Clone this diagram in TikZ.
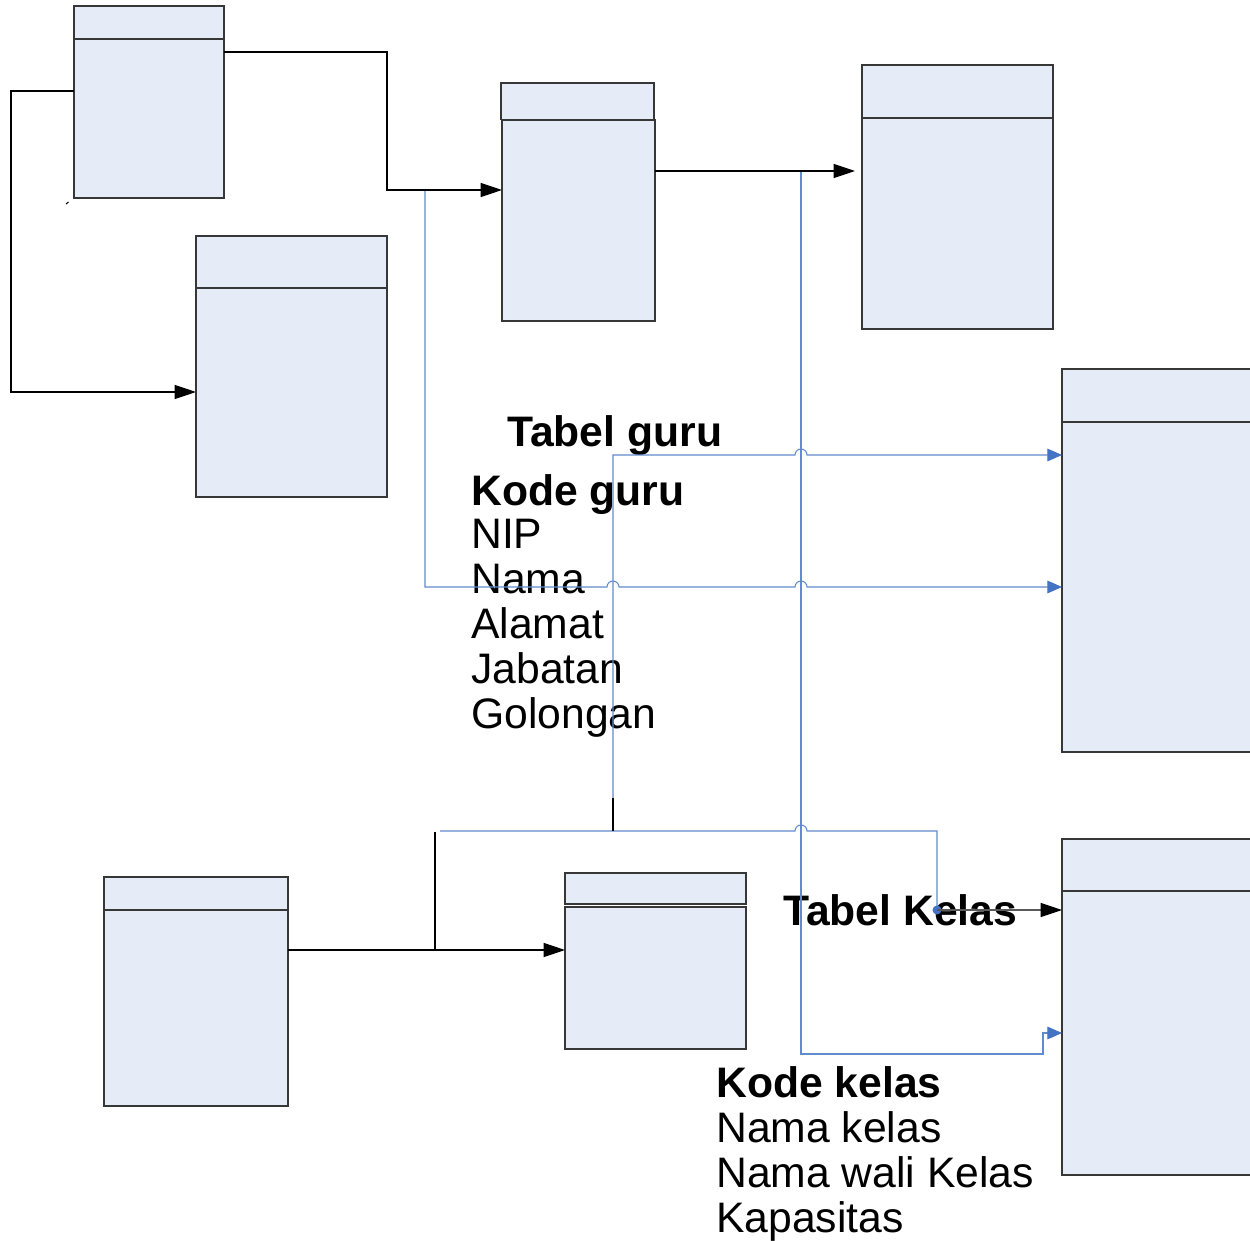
\documentclass[tikz,border=0pt]{standalone}
\usepackage{fontspec}
\setmainfont{Liberation Sans}
\usetikzlibrary{arrows.meta}

\definecolor{tblfill}{RGB}{230,236,247}
\definecolor{tbledge}{RGB}{55,55,55}
\definecolor{linkblue}{RGB}{98,138,206}
\definecolor{tipblue}{RGB}{68,114,196}

\begin{document}
\begin{tikzpicture}[x=0.75pt,y=-0.75pt,
  tbl/.style={draw=tbledge, fill=tblfill, line width=0.9pt, anchor=north west,
              inner sep=0pt, outer sep=0pt},
  sep/.style={draw=tbledge, line width=0.9pt},
  conn/.style={draw=black, line width=0.8pt},
  blk/.style={-{Triangle[length=16pt,width=10.5pt]}},
  lnk/.style={draw=linkblue, line width=0.8pt},
  blu/.style={-{Triangle[length=11pt,width=9.5pt,color=tipblue]}},
  lbl/.style={anchor=base west, inner sep=0pt, font=\fontsize{32}{34}\selectfont},
  ttl/.style={lbl, font=\fontsize{32}{34}\selectfont\bfseries},
]
\useasboundingbox (0,0) rectangle (1250,1241);

% ---- tables ----
\node[tbl, minimum width=112.5pt, minimum height=144pt] (A) at (74,6) {};
\draw[sep] (A.west |- 0,39) -- (A.east |- 0,39);

\node[tbl, minimum width=143.25pt, minimum height=195.75pt] (B) at (196,236) {};
\draw[sep] (B.west |- 0,288) -- (B.east |- 0,288);

\node[tbl, minimum width=114.75pt, minimum height=27.375pt] (Ch) at (501,83) {};
\node[tbl, minimum width=114.75pt, minimum height=150.75pt] (C) at (502,120) {};

\node[tbl, minimum width=143.25pt, minimum height=198pt] (D) at (862,65) {};
\draw[sep] (D.west |- 0,118) -- (D.east |- 0,118);

\node[tbl, minimum width=146.25pt, minimum height=287.25pt] (E) at (1062,369) {};
\draw[sep] (E.west |- 0,422) -- (E.east |- 0,422);

\node[tbl, minimum width=138pt, minimum height=171.75pt] (F) at (104,877) {};
\draw[sep] (F.west |- 0,910) -- (F.east |- 0,910);

\node[tbl, minimum width=135.75pt, minimum height=23.25pt] (Gh) at (565,873) {};
\node[tbl, minimum width=135.75pt, minimum height=106.5pt] (G) at (565,907) {};

\node[tbl, minimum width=146.25pt, minimum height=252pt] (H) at (1062,839) {};
\draw[sep] (H.west |- 0,891) -- (H.east |- 0,891);

% ---- labels ----
\node[ttl] (tguru) at (507,446) {Tabel guru};
\node[ttl] (kguru) at (471,505) {Kode guru};
\node[lbl] (nip)   at (471,548) {NIP};
\node[lbl] (nama)  at (471,593) {Nama};
\node[lbl] (alm)   at (471,638) {Alamat};
\node[lbl] (jab)   at (471,683) {Jabatan};
\node[lbl] (gol)   at (471,728) {Golongan};

\node[ttl] (tkelas) at (783,925) {Tabel Kelas};
\node[ttl] (kkelas) at (716,1097) {Kode kelas};
\node[lbl] (nkelas) at (716,1142) {Nama kelas};
\node[lbl] (nwali)  at (716,1187) {Nama wali Kelas};
\node[lbl] (kap)    at (716,1232) {Kapasitas};

% ---- junction points ----
\coordinate (j1) at (425,190);
\coordinate (j2) at (801,171);
\coordinate (j3) at (435,950);
\coordinate (dot) at (937,910);

% ---- blue links (with hops over crossings) ----
\draw[lnk, blu] (j1) -- (425,587) -- (607,587) arc(180:360:6) -- (795,587)
  arc(180:360:6) -- (E.west |- 0,587);
\draw[lnk, blu] (613,831) -- (613,455) -- (795,455) arc(180:360:6) -- (E.west |- 0,455);
\draw[lnk, blu] (j2) -- (801,1054) -- (1043,1054) -- (1043,1033) -- (H.west |- 0,1033);
\draw[lnk] (440,831) -- (795,831) arc(180:360:6) -- (937,831) -- (dot);
\fill[tipblue] (dot) circle (4.5);

% ---- black links ----
\draw[conn, blk] (A.east |- 0,52) -| (387,190) -- (C.west |- 0,190);
\draw[conn, blk] (A.west |- 0,91) -| (11,392) -- (B.west |- 0,392);
\draw[conn, blk, shorten >=5.25pt] (C.east |- 0,171) -- (D.west |- 0,171);
\draw[conn, blk] (F.east |- 0,950) -- (G.west |- 0,950);
\draw[conn] (j3) -- (435,832);
\draw[conn] (613,798) -- (613,831);
\draw[conn, draw=black!65, -{Triangle[length=16pt,width=10.5pt,color=black]}] (dot) -- (H.west |- 0,910);
\draw[line width=0.8pt] (66,204) -- (68.5,202);

\end{tikzpicture}
\end{document}
